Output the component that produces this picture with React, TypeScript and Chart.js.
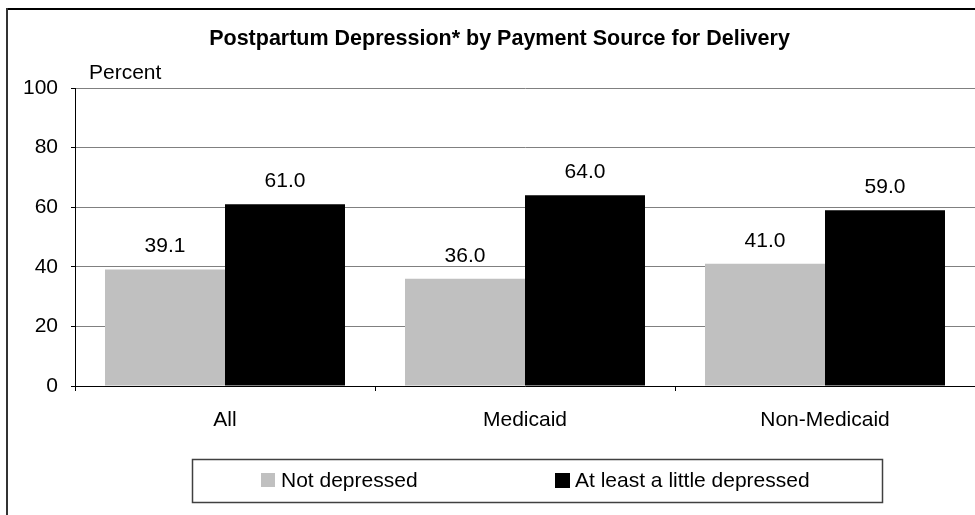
import React, { useEffect, useRef } from "react";
import { Chart, registerables } from "chart.js";

Chart.register(...registerables);

const categories = ["All", "Medicaid", "Non-Medicaid"];
const notDepressed = [39.1, 36.0, 41.0];
const atLeastLittle = [61.0, 64.0, 59.0];
const seriesNames = ["Not depressed", "At least a little depressed"];
const seriesColors = ["#C0C0C0", "#000000"];
const titleText = "Postpartum Depression* by Payment Source for Delivery";
const yAxisLabel = "Percent";

const FONT = "'Liberation Sans', Arial, sans-serif";

const decorPlugin = {
  id: "decor",
  beforeDraw(chart: any) {
    const ctx = chart.ctx;
    ctx.save();
    ctx.fillStyle = "#fff";
    ctx.fillRect(0, 0, chart.width, chart.height);
    ctx.fillStyle = "#000";
    ctx.fillRect(6, 8, chart.width - 6, 2);
    ctx.fillStyle = "#333";
    ctx.fillRect(6, 8, 2, chart.height - 8);
    ctx.restore();
  },
  afterDatasetsDraw(chart: any) {
    const ctx = chart.ctx;
    ctx.save();
    ctx.font = `21px ${FONT}`;
    ctx.fillStyle = "#000";
    ctx.textAlign = "center";
    ctx.textBaseline = "middle";
    chart.data.datasets.forEach((ds: any, i: number) => {
      const meta = chart.getDatasetMeta(i);
      meta.data.forEach((el: any, j: number) => {
        ctx.fillText(Number(ds.data[j]).toFixed(1), el.x, el.y - 23);
      });
    });
    ctx.restore();
  },
  afterDraw(chart: any) {
    const ctx = chart.ctx;
    ctx.save();
    ctx.font = `bold 21.5px ${FONT}`;
    ctx.fillStyle = "#000";
    ctx.textAlign = "center";
    ctx.textBaseline = "middle";
    ctx.fillText(titleText, 499.5, 39);
    ctx.font = `21px ${FONT}`;
    ctx.textAlign = "left";
    ctx.textBaseline = "alphabetic";
    ctx.fillText(yAxisLabel, 89, 79);
    ctx.strokeStyle = "#404040";
    ctx.lineWidth = 1.5;
    ctx.strokeRect(192.5, 459.5, 690, 43);
    const items = [
      { sx: 261, tx: 281, s: 14 },
      { sx: 555, tx: 575, s: 15 },
    ];
    chart.data.datasets.forEach((ds: any, i: number) => {
      const it = items[i];
      ctx.fillStyle = ds.backgroundColor;
      ctx.fillRect(it.sx, 473, it.s, it.s);
      ctx.fillStyle = "#000";
      ctx.textBaseline = "middle";
      ctx.fillText(ds.label, it.tx, 481);
    });
    ctx.restore();
  },
};

export default function App() {
  const ref = useRef<HTMLCanvasElement>(null);
  useEffect(() => {
    if (!ref.current) return;
    const chart = new Chart(ref.current, {
      type: "bar",
      data: {
        labels: categories,
        datasets: [
          {
            label: seriesNames[0],
            data: notDepressed,
            backgroundColor: seriesColors[0],
            borderWidth: 0,
            categoryPercentage: 0.8,
            barPercentage: 1.0,
          },
          {
            label: seriesNames[1],
            data: atLeastLittle,
            backgroundColor: seriesColors[1],
            borderWidth: 0,
            categoryPercentage: 0.8,
            barPercentage: 1.0,
          },
        ],
      },
      options: {
        responsive: false,
        animation: false,
        layout: { padding: { top: 88, left: 0, right: 0, bottom: 0 } },
        plugins: {
          legend: { display: false },
          title: { display: false },
          tooltip: { enabled: false },
        },
        scales: {
          x: {
            type: "category",
            grid: {
              offset: true,
              drawOnChartArea: false,
              drawTicks: true,
              tickLength: 5,
              color: "#000",
            },
            border: { color: "#000", width: 1 },
            ticks: {
              font: { family: FONT, size: 21 },
              color: "#000",
              padding: 17,
              maxRotation: 0,
            },
            afterFit(scale: any) {
              scale.height = 129;
            },
          },
          y: {
            min: 0,
            max: 100,
            ticks: {
              stepSize: 20,
              font: { family: FONT, size: 21 },
              color: "#000",
              padding: 13,
            },
            grid: {
              color: "#808080",
              lineWidth: 1,
              tickLength: 4,
              tickColor: "#000",
            },
            border: { color: "#000", width: 1 },
            afterFit(scale: any) {
              scale.width = 75;
            },
          },
        },
      },
      plugins: [decorPlugin],
    });
    return () => chart.destroy();
  }, []);

  return (
    <div style={{ position: "absolute", left: 0, top: 0, width: 975, height: 515, overflow: "hidden" }}>
      <canvas ref={ref} width={975} height={515} style={{ display: "block" }} />
    </div>
  );
}
